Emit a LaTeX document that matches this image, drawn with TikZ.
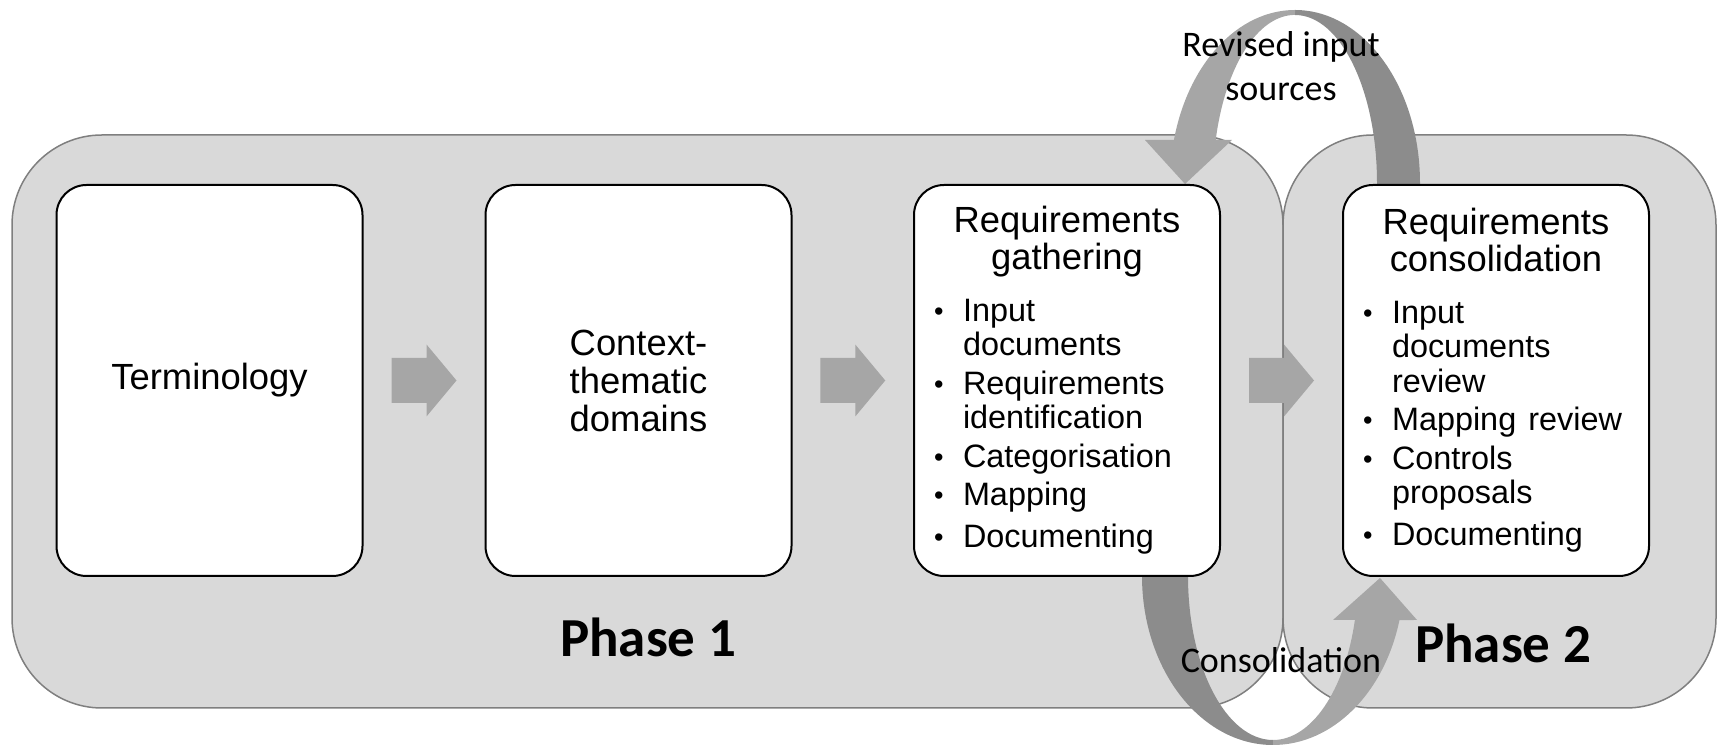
\documentclass[tikz,border=0pt]{standalone}
\usepackage{fontspec}
\setmainfont{Liberation Sans}
\newfontfamily\calibri{Carlito}
\usetikzlibrary{calc}

\definecolor{phasefill}{RGB}{217,217,217}
\definecolor{phaseline}{RGB}{127,127,127}
\definecolor{chevgray}{RGB}{166,166,166}
\definecolor{loopdark}{RGB}{140,140,140}
\definecolor{looplight}{RGB}{166,166,166}

\tikzset{every picture/.style={line width=0.75pt}}
\tikzset{
  phasebox/.style={draw=phaseline, fill=phasefill, line width=0.75pt, rounded corners=45pt, inner sep=0pt},
  stagebox/.style={draw=black, fill=white, line width=1pt, rounded corners=15pt, minimum width=153pt, minimum height=195.5pt, inner sep=0pt, font=\fontsize{18.2}{19}\selectfont},
  chevron/.style={fill=chevgray},
  phaselabel/.style={font=\calibri\bfseries\fontsize{27.5}{33}\selectfont, inner sep=0pt, anchor=base},
  looplabel/.style={font=\calibri\fontsize{18}{22}\selectfont, inner sep=0pt, align=center}
}
\newcommand{\stageitem}[1]{\par\hangindent=12pt\hangafter=1\noindent\makebox[12pt][l]{\hspace{-2.5pt}\raisebox{0.6pt}{\fontsize{13.5}{13.5}\selectfont\textbullet}}#1}

\begin{document}
\begin{tikzpicture}[x=0.5pt,y=0.5pt,yscale=-1,xscale=1]
\useasboundingbox (0,0) rectangle (1720,747);

% Phase Node
\node[phasebox, minimum width=635.5pt, minimum height=286.5pt] (phase1) at (647.5,421.5) {};
% Phase Node
\node[phasebox, minimum width=216.5pt, minimum height=286.5pt] (phase2) at (1499.5,421.5) {};

% Loop (revised input sources)
\fill[loopdark] (1420,195) -- (1420,183) arc[start angle=0, end angle=-90, x radius=125, y radius=173] -- (1295,15) arc[start angle=-90, end angle=0, x radius=82, y radius=168] -- (1377,195) -- cycle;
\fill[looplight] (1295,10) arc[start angle=-90, end angle=-165.6, x radius=125, y radius=173] -- (1145,140) -- (1185,184) -- (1232,140) -- (1215.7,140) arc[start angle=-165.2, end angle=-90, x radius=82, y radius=168] -- cycle;

% Loop (consolidation)
\fill[loopdark] (1142,566) -- (1142,576) arc[start angle=180, end angle=90, x radius=131, y radius=169] -- (1273,740) arc[start angle=90, end angle=180, x radius=85, y radius=164] -- (1188,566) -- cycle;
\fill[looplight] (1273,745) arc[start angle=90, end angle=15.1, x radius=131, y radius=169] -- (1417,620) -- (1380,578) -- (1333,620) -- (1354.9,620) arc[start angle=15.56, end angle=90, x radius=85, y radius=164] -- cycle;

% Text Node
\node[stagebox] (term) at (209.5,380.5) {Terminology};
% Text Node
\node[stagebox, align=center] (ctx) at (638.5,380.5) {Context-\\thematic\\domains};
% Text Node
\node[stagebox, text width=128pt] (gather) at (1067,380.5) {%
  \setlength{\parskip}{2pt}%
  {\centering\fontsize{18.2}{18.5}\selectfont Requirements\\gathering\par}%
  \vspace{6.6pt}%
  \raggedright\fontsize{16.2}{17.25}\selectfont
  \stageitem{Input\newline documents}
  \stageitem{Requirements\newline identification}
  \stageitem{Categorisation}
  \stageitem{Mapping}
  \stageitem{Documenting}};
% Text Node
\node[stagebox, text width=128pt] (consol) at (1496,380.5) {%
  \setlength{\parskip}{2pt}%
  {\centering\fontsize{18.2}{18.5}\selectfont Requirements\\consolidation\par}%
  \vspace{6.6pt}%
  \raggedright\fontsize{16.2}{17.25}\selectfont
  \stageitem{Input\newline documents\newline review}
  \stageitem{Mapping review}
  \stageitem{Controls\newline proposals}
  \stageitem{Documenting}};

% Connection
\fill[chevron] ($(term.east)!0.5!(ctx.west)$) ++(-32.5,-22.5) -- ++(35,0) -- ++(0,-13.5) -- ++(30,36) -- ++(-30,36) -- ++(0,-13.5) -- ++(-35,0) -- cycle;
% Connection
\fill[chevron] ($(ctx.east)!0.5!(gather.west)$) ++(-32.5,-22.5) -- ++(35,0) -- ++(0,-13.5) -- ++(30,36) -- ++(-30,36) -- ++(0,-13.5) -- ++(-35,0) -- cycle;
% Connection
\fill[chevron] ($(gather.east)!0.5!(consol.west)$) ++(-32.5,-22.5) -- ++(35,0) -- ++(0,-13.5) -- ++(30,36) -- ++(-30,36) -- ++(0,-13.5) -- ++(-35,0) -- cycle;

% Labels
\node[phaselabel] (p1label) at (648,657) {Phase 1};
\node[phaselabel] (p2label) at (1503,663) {Phase 2};
\node[looplabel] (revlabel) at (1281,66) {Revised input\\sources};
\node[looplabel, anchor=base] (conlabel) at (1281,673) {Consolidation};

\end{tikzpicture}
\end{document}
